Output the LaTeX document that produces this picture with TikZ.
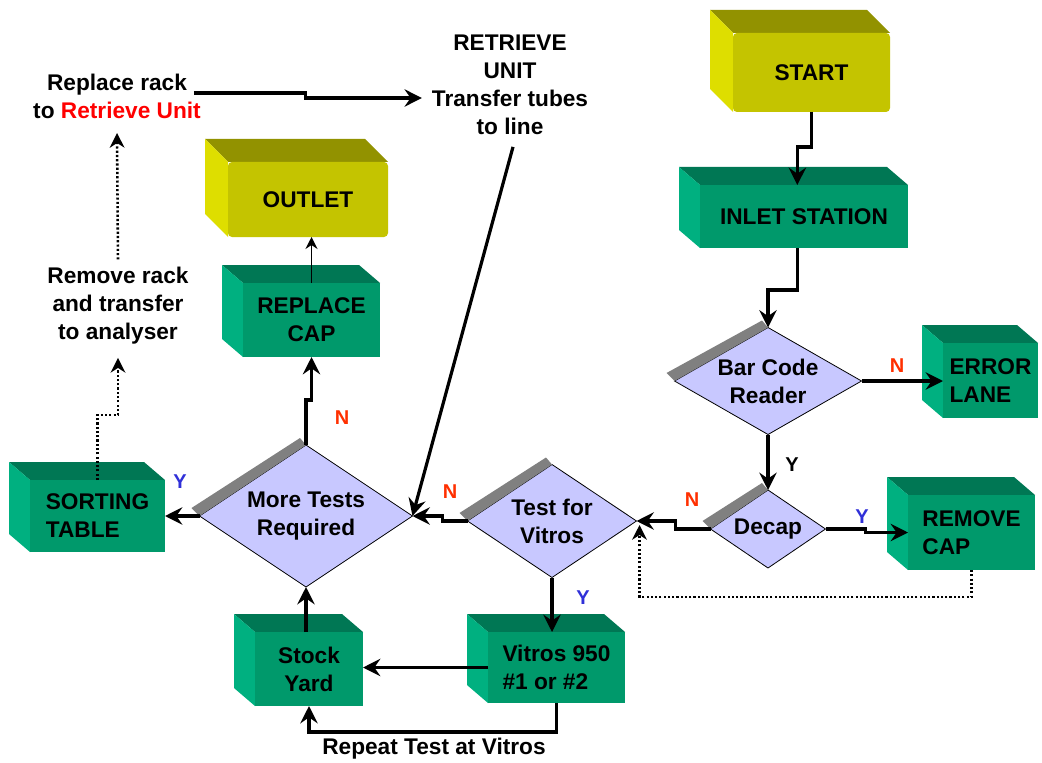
\documentclass[tikz,border=0pt]{standalone}
\usepackage{fontspec}
\setmainfont{Liberation Sans}
\usetikzlibrary{arrows.meta,shapes.geometric,calc}

\definecolor{cGreenFront}{RGB}{0,153,107}
\definecolor{cGreenTop}{RGB}{0,119,84}
\definecolor{cGreenSide}{RGB}{0,176,128}
\definecolor{cYellowFront}{RGB}{196,196,0}
\definecolor{cYellowTop}{RGB}{146,146,0}
\definecolor{cYellowSide}{RGB}{222,222,0}
\definecolor{cDiamond}{RGB}{200,200,255}
\definecolor{cBand}{RGB}{128,128,128}
\definecolor{cNo}{RGB}{255,48,0}
\definecolor{cYes}{RGB}{48,48,216}

% depth of the 3-D boxes (px): green and yellow
\newcommand\depthgx{21}\newcommand\depthgy{18}
\newcommand\depthyx{23}\newcommand\depthyy{23}

% \cube{g|y}{node options}{name}{x1}{y1}{x2}{y2}{text}: front face from (x1,y1) to (x2,y2)
\newcommand\cube[8]{%
  \fill[fill=c#1top] (#4,#5) -- ({#4-\csname depth#1x\endcsname},{#5-\csname depth#1y\endcsname})
     -- ({#6-\csname depth#1x\endcsname},{#5-\csname depth#1y\endcsname}) -- (#6,#5) -- cycle;
  \fill[fill=c#1side] (#4,#5) -- ({#4-\csname depth#1x\endcsname},{#5-\csname depth#1y\endcsname})
     -- ({#4-\csname depth#1x\endcsname},{#7-\csname depth#1y\endcsname}) -- (#4,#7) -- cycle;
  \node[fill=c#1front, #2, minimum width={(#6-#4)*0.75pt}, minimum height={(#7-#5)*0.75pt}]
     (#3) at ({(#4+#6)/2},{(#5+#7)/2}) {#8};
}
\colorlet{cgtop}{cGreenTop}\colorlet{cgside}{cGreenSide}\colorlet{cgfront}{cGreenFront}
\colorlet{cytop}{cYellowTop}\colorlet{cyside}{cYellowSide}\colorlet{cyfront}{cYellowFront}

% \decision{name}{cx}{cy}{width}{height}{text}
\newcommand\decision[6]{%
  \node[decbox, minimum width={#4*0.75pt}, minimum height={#5*0.75pt}] (#1) at (#2,#3) {};
  \fill[cBand] (#1.west) -- (#1.north) -- ([shift={(-6,-7)}]#1.north) -- ([shift={(-8,-8)}]#1.west) -- cycle;
  \node[align=center] (#1-text) at (#1) {#6};
}

\begin{document}
\begin{tikzpicture}[x=0.75pt,y=-0.75pt,
  every node/.style={font=\bfseries\fontsize{17}{21}\selectfont, inner sep=0pt, outer sep=0pt},
  decbox/.style={diamond, fill=cDiamond, draw=black, line width=0.6pt, inner sep=0pt, outer sep=0pt},
  arr/.style={line width=2.4pt, -{Stealth[length=13pt,width=13pt,inset=4.5pt]}},
  thinarr/.style={line width=1.2pt, -{Stealth[length=9pt,width=9pt,inset=3pt]}},
  dotarr/.style={line width=1.9pt, dash pattern=on 1.6pt off 1.6pt, -{Stealth[length=11pt,width=11pt,inset=3.5pt]}},
  nlab/.style={text=cNo, font=\bfseries\fontsize{15}{18}\selectfont},
  ylab/.style={text=cYes, font=\bfseries\fontsize{15}{18}\selectfont},
  yblack/.style={text=black, font=\bfseries\fontsize{15}{18}\selectfont}]

\useasboundingbox (0,0) rectangle (1042,763);
\fill[white] (0,0) rectangle (1042,763);

% boxes
\cube{y}{rounded corners=3pt}{start}{733}{33}{890}{112}{START}
\cube{g}{}{inlet}{700}{185}{908}{248}{INLET STATION}
\cube{y}{rounded corners=3pt}{outlet}{228}{162}{388}{237}{OUTLET}
\cube{g}{align=center}{rcap}{243}{283}{380}{357}{REPLACE\\CAP}
\cube{g}{align=left}{err}{943}{343}{1038}{418}{ERROR\\LANE}
\cube{g}{align=left}{rem}{908}{495}{1035}{570}{REMOVE\\CAP}
\cube{g}{align=left}{sort}{30}{480}{165}{552}{SORTING\\TABLE}
\cube{g}{align=center}{stock}{255}{632}{363}{706}{Stock\\Yard}
\cube{g}{align=left}{vit}{488}{632}{625}{703}{Vitros 950\\\#1 or \#2}

% decisions
\decision{bc}{768}{381}{187}{107}{Bar Code\\Reader}
\decision{dec}{768}{529}{115}{78}{Decap}
\decision{tv}{552}{521}{169}{113}{Test for\\Vitros}
\decision{more}{306}{516}{213}{142}{More Tests\\Required}

% free texts
\node[align=center] (retr) at (510,85) {RETRIEVE\\UNIT\\Transfer tubes\\to line};
\node[align=center] (reprack) at (117,96) {Replace rack\\to {\color{red}Retrieve Unit}};
\node[align=center] (remrack) at (118,306) {Remove rack\\and transfer\\to analyser};
\node (repeat) at (434,749) {Repeat Test at Vitros};

% branch labels
\node[nlab] (n1) at (897,366) {N};
\node[yblack] (y1) at (792,465) {Y};
\node[ylab] (y2) at (862,517) {Y};
\node[nlab] (n2) at (692,500) {N};
\node[nlab] (n3) at (450,492) {N};
\node[ylab] (y3) at (583,598) {Y};
\node[ylab] (y4) at (180,482) {Y};
\node[nlab] (n4) at (342,418) {N};

% connectors
\draw[arr] (start.south) -- ++(0,35) -| ([xshift=-5pt]inlet.north);
\draw[arr] ([xshift=-5pt]inlet.south) -- ++(0,42) -| (bc.north);
\draw[arr] (bc.east) -- (bc.east -| err.west);
\draw[arr] (bc.south) -- (dec.north);
\draw[arr] (dec.east) -- ++(40,0) |- (rem.west);
\draw[arr] (dec.west) -- ++(-35,0) |- (tv.east);
\draw[dotarr] (rem.south) -- ++(0,27) -| ([shift={(3,4)}]tv.east);
\draw[arr] (tv.west) -- ++(-25,0) |- (more.east);
\draw[arr] ([shift={(3,12)}]retr.south) -- (more.east);
\draw[arr] (tv.south) -- (tv.south |- vit.north);
\draw[arr] (vit.west) -- (vit.west -| stock.east);
\draw[arr] (vit.south) -- ++(0,29) -| (stock.south);
\draw[arr] (more.south |- stock.north) -- (more.south);
\draw[arr] (more.west) -- (more.west -| sort.east);
\draw[arr] (more.north) -- ++(0,-45) -| (rcap.south);
\draw[thinarr] (rcap.north) -- (rcap.north |- outlet.south);
\draw[dotarr] (sort.north) -- ++(0,-65) -| ([yshift=-10pt]remrack.south);
\draw[dotarr] ([yshift=6pt]remrack.north) -- ([yshift=-11pt]reprack.south);
\draw[arr] ([shift={(-7,-3)}]reprack.east) -- ++(112,0) |- ([shift={(-10,13)}]retr.west);
\end{tikzpicture}
\end{document}
